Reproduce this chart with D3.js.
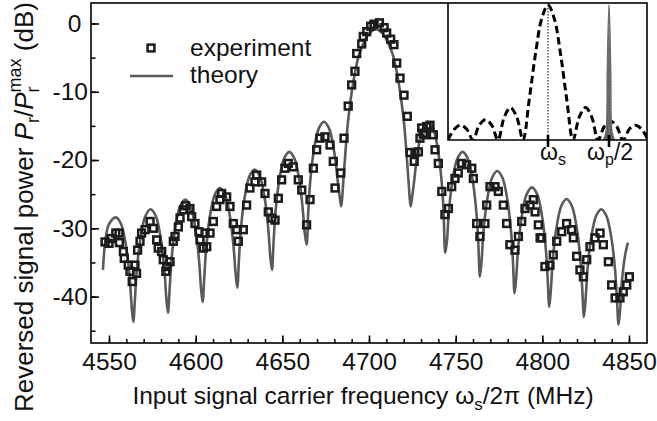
<!DOCTYPE html>
<html>
<head>
<meta charset="utf-8">
<script src="https://cdn.jsdelivr.net/npm/d3@7"></script>
<style>
  body { margin: 0; background: #fff; }
  svg { display: block; font-family: "Liberation Sans", Arial, sans-serif; }
</style>
</head>
<body>
<div id="chart"></div>
<script>
// measured points (squares)
const expFreq = [4547.7,4550.0,4551.2,4553.9,4555.8,4556.0,4558.3,4558.8,4561.1,4562.1,4563.4,4565.0,4565.9,
  4566.5,4567.9,4568.8,4570.8,4573.7,4575.6,4577.5,4578.4,4580.4,4581.3,4583.3,4582.8,4585.2,4587.1,4588.1,
  4590.0,4591.0,4592.9,4594.2,4596.7,4597.7,4599.6,4601.9,4602.5,4604.4,4605.4,4606.4,4608.3,4610.2,4612.1,
  4614.0,4615.0,4617.9,4619.8,4621.7,4623.7,4624.6,4627.5,4629.4,4631.3,4634.2,4635.2,4638.1,4640.0,4641.9,
  4643.9,4645.8,4647.7,4649.6,4651.5,4653.4,4656.3,4659.2,4661.2,4664.0,4666.0,4667.9,4669.8,4671.7,4674.6,
  4677.5,4679.4,4680.4,4683.7,4685.6,4688.0,4690.0,4691.9,4692.9,4695.8,4696.7,4698.7,4701.0,4702.9,4706.0,
  4708.7,4710.2,4712.5,4714.4,4716.0,4717.9,4720.2,4722.1,4723.7,4726.1,4726.5,4728.5,4729.4,4730.4,4731.3,
  4732.3,4733.3,4735.2,4737.1,4738.1,4740.0,4742.0,4743.8,4745.8,4747.7,4749.6,4751.5,4753.5,4756.3,4759.3,
  4760.2,4762.1,4764.0,4766.9,4767.9,4769.8,4772.7,4774.6,4777.5,4779.4,4781.3,4784.2,4786.2,4788.1,4790.0,
  4792.9,4794.8,4795.8,4797.7,4798.7,4799.6,4801.5,4804.4,4806.3,4808.3,4811.2,4814.0,4816.9,4817.9,4819.8,
  4821.7,4823.7,4825.6,4827.5,4830.4,4833.3,4835.2,4838.1,4840.0,4842.0,4844.8,4846.7,4848.7,4850.2];
const expDb = [-32.0,-32.2,-31.5,-30.7,-30.7,-32.1,-33.4,-34.4,-35.4,-36.3,-37.8,-35.4,-36.6,
  -33.2,-31.9,-30.7,-30.2,-29.0,-30.0,-31.7,-32.9,-33.4,-34.6,-35.6,-36.3,-34.9,-31.9,-31.2,
  -29.8,-28.5,-27.3,-26.7,-27.1,-28.3,-29.3,-30.5,-31.7,-32.9,-30.7,-32.7,-30.7,-29.0,-26.8,
  -25.8,-24.9,-25.4,-26.8,-29.3,-30.2,-31.9,-30.2,-26.6,-24.1,-23.2,-22.2,-23.2,-24.9,-27.6,
  -28.5,-28.8,-25.6,-22.9,-21.2,-20.5,-21.0,-22.9,-24.4,-29.5,-25.8,-21.2,-18.5,-16.8,-16.6,
  -17.8,-20.2,-24.1,-21.9,-16.8,-12.1,-9.0,-7.0,-4.4,-3.0,-1.9,-1.2,-0.4,-0.1,0.1,
  -0.6,-1.4,-2.3,-3.1,-5.8,-8.0,-10.5,-13.6,-18.9,-20.2,-18.9,-18.8,-16.8,-15.3,-16.1,
  -16.3,-15.1,-14.9,-16.3,-18.5,-20.5,-24.6,-28.0,-27.1,-23.9,-22.7,-21.9,-20.5,-20.7,-21.2,
  -22.7,-29.3,-31.2,-29.3,-26.6,-23.9,-23.9,-24.6,-26.6,-29.3,-32.4,-33.2,-31.2,-29.0,-27.1,
  -26.6,-25.8,-27.6,-29.5,-31.4,-31.4,-35.6,-35.4,-33.9,-31.9,-30.5,-29.3,-30.2,-31.4,-34.1,
  -36.1,-37.1,-34.6,-32.7,-31.4,-30.7,-32.4,-34.9,-38.3,-40.2,-40.2,-39.3,-38.3,-37.1];

// theory curve
const theoryFreq = [4546.5,4548,4550,4554,4557,4560,4562,4563,4564,
  4565,4566,4568,4571,4574,4577,4580,4582,4583,4584,
  4585,4586,4588,4591,4594,4597,4600,4602,4603,4604,
  4605,4606,4608,4611,4614,4617,4620,4622,4623,4624,
  4625,4626,4628,4631,4634,4637,4640,4642,4643,4644,
  4645,4646,4648,4651,4654,4657,4660,4662,4663,4664,
  4665,4666,4668,4671,4674,4677,4680,4682,4683,4684,
  4685,4686.5,4688,4691,4694,4697,4700.5,4704,4707.5,4711,4714,4717,4720,4721.5,4723,4724,
  4725,4726,4728,4731,4734,4737,4740,4742,4743,4744,
  4745,4746,4748,4751,4754,4757,4760,4762,4763,4764,
  4765,4766,4768,4771,4774,4777,4780,4782,4783,4784,
  4785,4786,4788,4791,4794,4797,4800,4802,4803,4804,
  4805,4806,4808,4811,4814,4817,4820,4822,4823,4824,
  4825,4826,4828,4831,4834,4837,4840,4842,4843,4844,
  4845,4846,4848,4849.4];
const theoryDb = [-36.1,-31.6,-29.4,-28.4,-29.4,-32.9,-37.4,-41.2,-43.7,
  -40.2,-36.2,-31.7,-28.2,-27.2,-28.2,-31.7,-36.2,-40.0,-42.4,
  -38.8,-34.8,-30.3,-26.8,-25.8,-26.8,-30.3,-34.8,-38.5,-40.8,
  -37.1,-33.1,-28.6,-25.1,-24.1,-25.1,-28.6,-33.1,-36.5,-38.7,
  -34.4,-30.4,-25.9,-22.4,-21.4,-22.4,-25.9,-30.4,-34.0,-36.1,
  -31.8,-27.8,-23.3,-19.8,-18.8,-19.8,-23.3,-27.8,-30.8,-32.4,
  -27.4,-23.4,-18.9,-15.4,-14.4,-15.4,-18.9,-23.2,-25.2,-26.8,
  -23.8,-18.5,-14.1,-8.5,-4.8,-2.8,-1.35,-0.85,-1.35,-2.8,-4.8,-8.5,-14.1,-18.5,-23.8,-26.8,
  -25.2,-23.2,-18.9,-15.4,-14.4,-15.4,-18.9,-23.4,-27.4,-33.6,
  -31.8,-27.8,-23.3,-19.8,-18.8,-19.8,-23.3,-27.8,-31.8,-37.1,
  -34.6,-30.6,-26.1,-22.6,-21.6,-22.6,-26.1,-30.6,-34.6,-39.5,
  -37.0,-33.0,-28.5,-25.0,-24.0,-25.0,-28.5,-33.0,-37.0,-41.5,
  -38.7,-34.7,-30.2,-26.7,-25.7,-26.7,-30.2,-34.7,-38.7,-43.0,
  -40.2,-36.2,-31.7,-28.2,-27.2,-28.2,-31.7,-36.2,-40.2,-44.1,
  -41.5,-37.5,-33.6,-32.1];

// inset: signal spectrum (dashed) and pump line (grey)
const insetU = [-4,-3.75,-3.5,-3.25,-3,-2.75,-2.5,-2.25,-2,-1.75,-1.5,-1.25,-1,-0.75,-0.5,-0.25,0,
  0.25,0.5,0.75,1,1.25,1.5,1.75,2,2.25,2.5,2.75,3,3.25,3.5,3.75,4];
const insetV = [0,0.08,0.11,0.08,0,0.11,0.15,0.11,0,0.17,0.24,0.17,0,0.3,0.64,0.9,1,
  0.9,0.64,0.3,0,0.17,0.24,0.17,0,0.1,0.14,0.1,0,0.08,0.11,0.08,0];
const pumpU = [2.22,2.32,2.37,2.44,2.51,2.56,2.66];
const pumpV = [0,0.06,0.5,1,0.5,0.06,0];
const insetMarks = [0, 2.44];

const xTicks = [4550,4600,4650,4700,4750,4800,4850];
const xMinor = d3.range(4550, 4851, 10);
const yTicks = [0,-10,-20,-30,-40];
const yMinor = [0,-5,-10,-15,-20,-25,-30,-35,-40,-45];

const width = 657, height = 421;
const L = 91, T = 3, R = 647, B = 343;
const font = "'Liberation Sans', Arial, sans-serif";

const svg = d3.select("#chart").append("svg")
  .attr("width", width).attr("height", height);

const x = d3.scaleLinear().domain([4550, 4850]).range([109, 629]);
const y = d3.scaleLinear().domain([3, -46.8]).range([T, B]);

// minor ticks
svg.append("g").attr("transform", `translate(0,${B})`)
  .call(d3.axisBottom(x).tickValues(xMinor).tickSize(-4).tickFormat(""))
  .call(g => g.select(".domain").remove())
  .selectAll("line").attr("stroke", "#000").attr("stroke-width", 1.5);
svg.append("g").attr("transform", `translate(${L},0)`)
  .call(d3.axisLeft(y).tickValues(yMinor).tickSize(-4.5).tickFormat(""))
  .call(g => g.select(".domain").remove())
  .selectAll("line").attr("stroke", "#000").attr("stroke-width", 1.5);

// major ticks + labels
const xAxis = svg.append("g").attr("transform", `translate(0,${B})`)
  .call(d3.axisBottom(x).tickValues(xTicks).tickSize(-7.5).tickPadding(10).tickFormat(d3.format("d")));
xAxis.select(".domain").remove();
xAxis.selectAll("line").attr("stroke", "#000").attr("stroke-width", 1.6);
xAxis.selectAll("text").attr("font-family", font).attr("font-size", 24.5).attr("fill", "#111");

const yAxis = svg.append("g").attr("transform", `translate(${L},0)`)
  .call(d3.axisLeft(y).tickValues(yTicks).tickSize(-8).tickPadding(3).tickFormat(d => d === 0 ? "0" : "-" + Math.abs(d)));
yAxis.select(".domain").remove();
yAxis.selectAll("line").attr("stroke", "#000").attr("stroke-width", 1.6);
yAxis.selectAll("text").attr("font-family", font).attr("font-size", 24.5).attr("fill", "#111")
  .filter(d => d === 0).attr("text-anchor", "middle").attr("x", 74.5 - L);

// theory curve
const line = d3.line()
  .x(i => x(theoryFreq[i])).y(i => y(theoryDb[i]))
  .curve(d3.curveCatmullRom.alpha(0.5));
svg.append("path")
  .attr("d", line(d3.range(theoryFreq.length)))
  .attr("fill", "none").attr("stroke", "#5a5a5a").attr("stroke-width", 2.6);

// experiment squares
const sq = 6.8;
svg.append("g").selectAll("rect")
  .data(d3.range(expFreq.length))
  .join("rect")
  .attr("x", i => x(expFreq[i]) - sq / 2)
  .attr("y", i => y(expDb[i]) - sq / 2)
  .attr("width", sq).attr("height", sq)
  .attr("fill", "none").attr("stroke", "#1b1b1b").attr("stroke-width", 2.5);

// inset
const ix = d3.scaleLinear().domain([-4, 4]).range([448, 648]);
const iy = d3.scaleLinear().domain([0, 1]).range([140, 5]);
svg.append("clipPath").attr("id", "insetClip")
  .append("rect").attr("x", 448).attr("y", T).attr("width", R - 448).attr("height", 137);

const inset = svg.append("g");
inset.append("line")
  .attr("x1", ix(0)).attr("x2", ix(0))
  .attr("y1", iy(1)).attr("y2", iy(0))
  .attr("stroke", "#000").attr("stroke-width", 1).attr("stroke-dasharray", "1.5,1.5");
inset.append("path")
  .attr("clip-path", "url(#insetClip)")
  .attr("d", d3.line().x(i => ix(insetU[i])).y(i => iy(insetV[i]))
    .curve(d3.curveCatmullRom.alpha(0.5))(d3.range(insetU.length)))
  .attr("fill", "none").attr("stroke", "#000").attr("stroke-width", 3)
  .attr("stroke-dasharray", "7.5,4");
inset.append("path")
  .attr("d", d3.line().x(i => ix(pumpU[i])).y(i => iy(pumpV[i]))
    .curve(d3.curveCatmullRom.alpha(0.5))(d3.range(pumpU.length)))
  .attr("fill", "#5c5c5c").attr("stroke", "#6e6e6e").attr("stroke-width", 1.5);
inset.append("line")
  .attr("x1", ix(2.44)).attr("x2", ix(2.44))
  .attr("y1", iy(0.85)).attr("y2", iy(0))
  .attr("stroke", "#999").attr("stroke-width", 0.8).attr("stroke-dasharray", "1.5,1.5");
inset.append("path")
  .attr("d", `M448,${T}V140H${R}`)
  .attr("fill", "none").attr("stroke", "#000").attr("stroke-width", 1.6);
inset.selectAll("line.mark")
  .data(insetMarks)
  .join("line").attr("class", "mark")
  .attr("x1", d => ix(d)).attr("x2", d => ix(d))
  .attr("y1", 135).attr("y2", 147)
  .attr("stroke", "#000").attr("stroke-width", 2.6);

const ws = inset.append("text").attr("x", 540).attr("y", 160)
  .attr("font-family", font).attr("font-size", 23).attr("fill", "#111");
ws.append("tspan").text("ω");
ws.append("tspan").attr("font-size", 16).attr("dy", 5).text("s");
const wp = inset.append("text").attr("x", 587).attr("y", 160)
  .attr("font-family", font).attr("font-size", 23).attr("fill", "#111");
wp.append("tspan").text("ω");
wp.append("tspan").attr("font-size", 16).attr("dy", 5).text("p");
wp.append("tspan").attr("dy", -5).text("/2");

// frame
svg.append("rect")
  .attr("x", L).attr("y", T).attr("width", R - L).attr("height", B - T)
  .attr("fill", "none").attr("stroke", "#000").attr("stroke-width", 1.6);

// legend
svg.append("rect").attr("x", 151 - sq / 2).attr("y", 48 - sq / 2).attr("width", sq).attr("height", sq)
  .attr("fill", "none").attr("stroke", "#1b1b1b").attr("stroke-width", 2.5);
svg.append("line").attr("x1", 130).attr("x2", 173).attr("y1", 76).attr("y2", 76)
  .attr("stroke", "#5a5a5a").attr("stroke-width", 2.6);
svg.append("text").attr("x", 190).attr("y", 56).attr("font-family", font).attr("font-size", 24.5)
  .attr("fill", "#111").text("experiment");
svg.append("text").attr("x", 190).attr("y", 83).attr("font-family", font).attr("font-size", 24.5)
  .attr("fill", "#111").text("theory");

// axis titles
const xt = svg.append("text").attr("x", 363).attr("y", 404).attr("text-anchor", "middle")
  .attr("font-family", font).attr("font-size", 24.5).attr("fill", "#111");
xt.append("tspan").text("Input signal carrier frequency ω");
xt.append("tspan").attr("font-size", 17).attr("dy", 6).text("s");
xt.append("tspan").attr("dy", -6).text("/2π (MHz)");

const yt = svg.append("text").attr("transform", "translate(33,207) rotate(-90)")
  .attr("text-anchor", "middle").attr("font-family", font).attr("font-size", 26).attr("fill", "#111");
yt.append("tspan").text("Reversed signal power ");
yt.append("tspan").attr("font-style", "italic").text("P");
yt.append("tspan").attr("font-size", 18).attr("dy", 6).text("r");
yt.append("tspan").attr("dy", -6).text("/");
yt.append("tspan").attr("font-style", "italic").text("P");
yt.append("tspan").attr("font-size", 18).attr("dy", 6).text("r");
yt.append("tspan").attr("font-size", 18).attr("dx", -6).attr("dy", -18).text("max");
yt.append("tspan").attr("dy", 12).text(" (dB)");
</script>
</body>
</html>
